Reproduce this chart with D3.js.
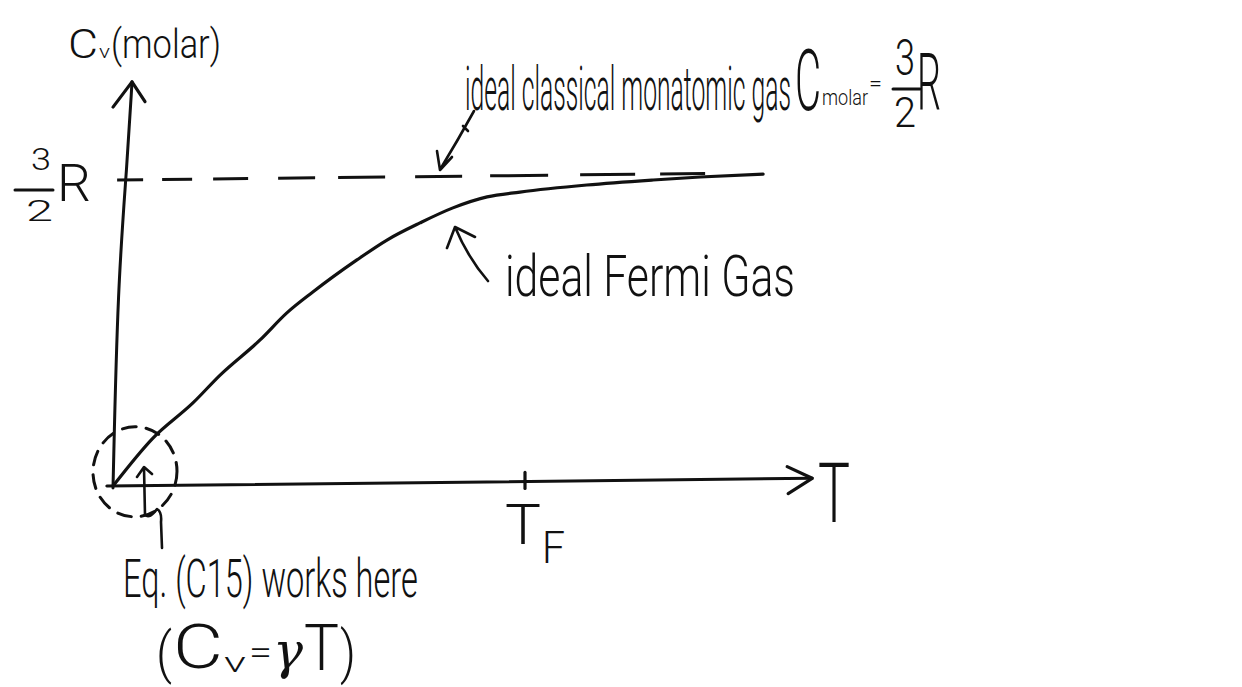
<!DOCTYPE html>
<html>
<head>
<meta charset="utf-8">
<script src="https://cdn.jsdelivr.net/npm/d3@7"></script>
<style>
  html, body { margin: 0; background: #fff; }
  svg { display: block; }
  text { font-family: "Roboto", "Liberation Sans Narrow", "DejaVu Sans Condensed", sans-serif; font-weight: 300; fill: #111; }
  text.greek { font-family: "DejaVu Serif", serif; font-style: italic; font-weight: 400; }
</style>
</head>
<body>
<svg id="chart" width="1242" height="687"></svg>
<script>
// Molar heat capacity of an ideal Fermi gas vs. temperature.
// T is in units of the Fermi temperature T_F, C_v in units of R.
const fermiT = [0, 0.097, 0.194, 0.260, 0.357, 0.422, 0.485, 0.592, 0.665, 0.745, 0.825, 0.908, 0.988, 1.150, 1.311, 1.425, 1.578];
const fermiC = [0, 0.233, 0.403, 0.538, 0.708, 0.839, 0.940, 1.095, 1.191, 1.273, 1.345, 1.397, 1.419, 1.450, 1.471, 1.483, 1.494];

// Classical monatomic limit, C = 3/2 R
const classicalC = 1.5;
const classicalT = [0.01, 1.44];

// Axis extents and the marked temperature
const axisT = [-0.015, 1.697];
const axisC = [-0.01, 1.98];
const tickT = [1];

const svg = d3.select("#chart");
const ink = "#111";

const x = d3.scaleLinear().domain([0, 1]).range([113, 525]);
const y = d3.scaleLinear().domain([0, 1.5]).range([486, 180]);

// the sketch sheet is slightly tilted: lift the right side a little
const lift = 0.011;
const plot = svg.append("g")
  .attr("transform", `translate(${x(0)},${y(0)}) skewY(${-Math.atan(lift) * 180 / Math.PI}) translate(${-x(0)},${-y(0)})`);

const stroke = sel => sel.attr("fill", "none").attr("stroke", ink)
  .attr("stroke-linecap", "round").attr("stroke-linejoin", "round");

// x axis with arrow
const xTip = [x(axisT[1]), y(0)];
plot.append("line").call(stroke).attr("stroke-width", 3)
  .attr("x1", x(axisT[0])).attr("y1", y(0)).attr("x2", xTip[0]).attr("y2", xTip[1]);
plot.append("path").call(stroke).attr("stroke-width", 3.2)
  .attr("d", `M${xTip[0] - 25},${xTip[1] - 12} L${xTip[0]},${xTip[1]} L${xTip[0] - 24},${xTip[1] + 15}`);

// y axis leans a bit to the right as it rises
const lean = 19;
const yTip = [x(0) + lean, y(axisC[1])];
plot.append("path").call(stroke).attr("stroke-width", 3)
  .attr("d", d3.line().curve(d3.curveBasis)([
    [x(0), y(axisC[0])],
    [x(0) + lean * 0.25, y(axisC[1] * 0.5)],
    [x(0) + lean * 0.75, y(axisC[1] * 0.8)],
    yTip
  ]));
plot.append("path").call(stroke).attr("stroke-width", 3.2)
  .attr("d", `M${yTip[0] - 19},${yTip[1] + 25} L${yTip[0]},${yTip[1]} L${yTip[0] + 13},${yTip[1] + 20}`);

// T_F tick
plot.selectAll(".tick").data(tickT).join("line").attr("class", "tick").call(stroke)
  .attr("stroke-width", 3.2)
  .attr("x1", d => x(d)).attr("x2", d => x(d))
  .attr("y1", y(0) - 9).attr("y2", y(0) + 7);

// classical limit, dashed
plot.append("line").call(stroke).attr("stroke-width", 3)
  .attr("stroke-dasharray", "26,19,30,21,35,30,37,23,47,30,47,28,58,32,55,25,45,40")
  .attr("stroke-linecap", "butt")
  .attr("x1", x(classicalT[0])).attr("x2", x(classicalT[1]))
  .attr("y1", y(classicalC)).attr("y2", y(classicalC));

// Fermi gas curve
const pts = fermiT.map((t, i) => [x(t), y(fermiC[i])]);
plot.append("path").call(stroke).attr("stroke-width", 3.2)
  .attr("d", d3.line().curve(d3.curveMonotoneX)(pts));

// dashed circle round the low-temperature region
plot.append("ellipse").call(stroke).attr("stroke-width", 3)
  .attr("stroke-dasharray", "14,10")
  .attr("cx", x(0) + 22).attr("cy", y(0) - 14).attr("rx", 42).attr("ry", 45);

// annotation pointers
const notes = svg.append("g");
notes.append("path").call(stroke).attr("stroke-width", 2.6)
  .attr("d", "M474,111 Q458,140 441,168 M437,151 L440,170 L452,157 M463,126 L468,131");
notes.append("path").call(stroke).attr("stroke-width", 2.6)
  .attr("d", "M488,281 Q468,258 455,227 M447,248 L455,227 L475,237");
notes.append("path").call(stroke).attr("stroke-width", 2.6)
  .attr("d", "M144,468 L145,515 Q150,519 157,509 Q162,512 161,522 L162,548 M137,477 L144,467 L152,474");

// hand-lettered labels: tall, narrow glyphs squeezed to the given width
function write(str, tx, ty, size, width, cls) {
  const t = svg.append("text").attr("font-size", size).text(str);
  if (cls) t.attr("class", cls);
  const natural = t.node().getComputedTextLength();
  const sx = width ? width / natural : 1;
  t.attr("transform", `translate(${tx},${ty}) scale(${sx},1)`);
  return t;
}
function bar(x1, x2, yy) {
  svg.append("line").call(stroke).attr("stroke-width", 3).attr("x1", x1).attr("x2", x2).attr("y1", yy).attr("y2", yy);
}

// y-axis title
write("C", 68, 58, 40, 30);
write("v", 99, 58, 18, 11);
write("(molar)", 111, 58, 40, 110);

// 3/2 R on the axis
write("3", 31, 170, 31, 20);
bar(15, 53, 190);
write("2", 26, 221, 30, 27);
write("R", 57, 201, 52, 34);

// classical gas label
write("ideal classical monatomic gas", 465, 110, 62, 326);
write("C", 795, 110, 86, 26);
write("molar", 822, 105, 22, 46);
write("=", 869, 91, 22, 13);
write("3", 895, 75, 50, 20);
bar(893, 920, 89);
write("2", 894, 127, 42, 22);
write("R", 917, 110, 80, 24);

// Fermi gas label
write("ideal Fermi Gas", 505, 296, 58, 290);

// axis labels
write("T", 818, 522, 84, 32);
write("T", 505, 544, 56, 36);
write("F", 542, 563, 44, 23);

// low-temperature note
write("Eq. (C15) works here", 123, 597, 54, 295);
write("(", 156, 672, 56, 16);
write("C", 173, 668, 62, 50);
write("v", 224, 672, 28, 22);
write("=", 249, 664, 34, 23);
write("γ", 273, 668, 50, 30, "greek");
write("T", 304, 670, 64, 35);
write(")", 340, 672, 58, 16);
</script>
</body>
</html>
